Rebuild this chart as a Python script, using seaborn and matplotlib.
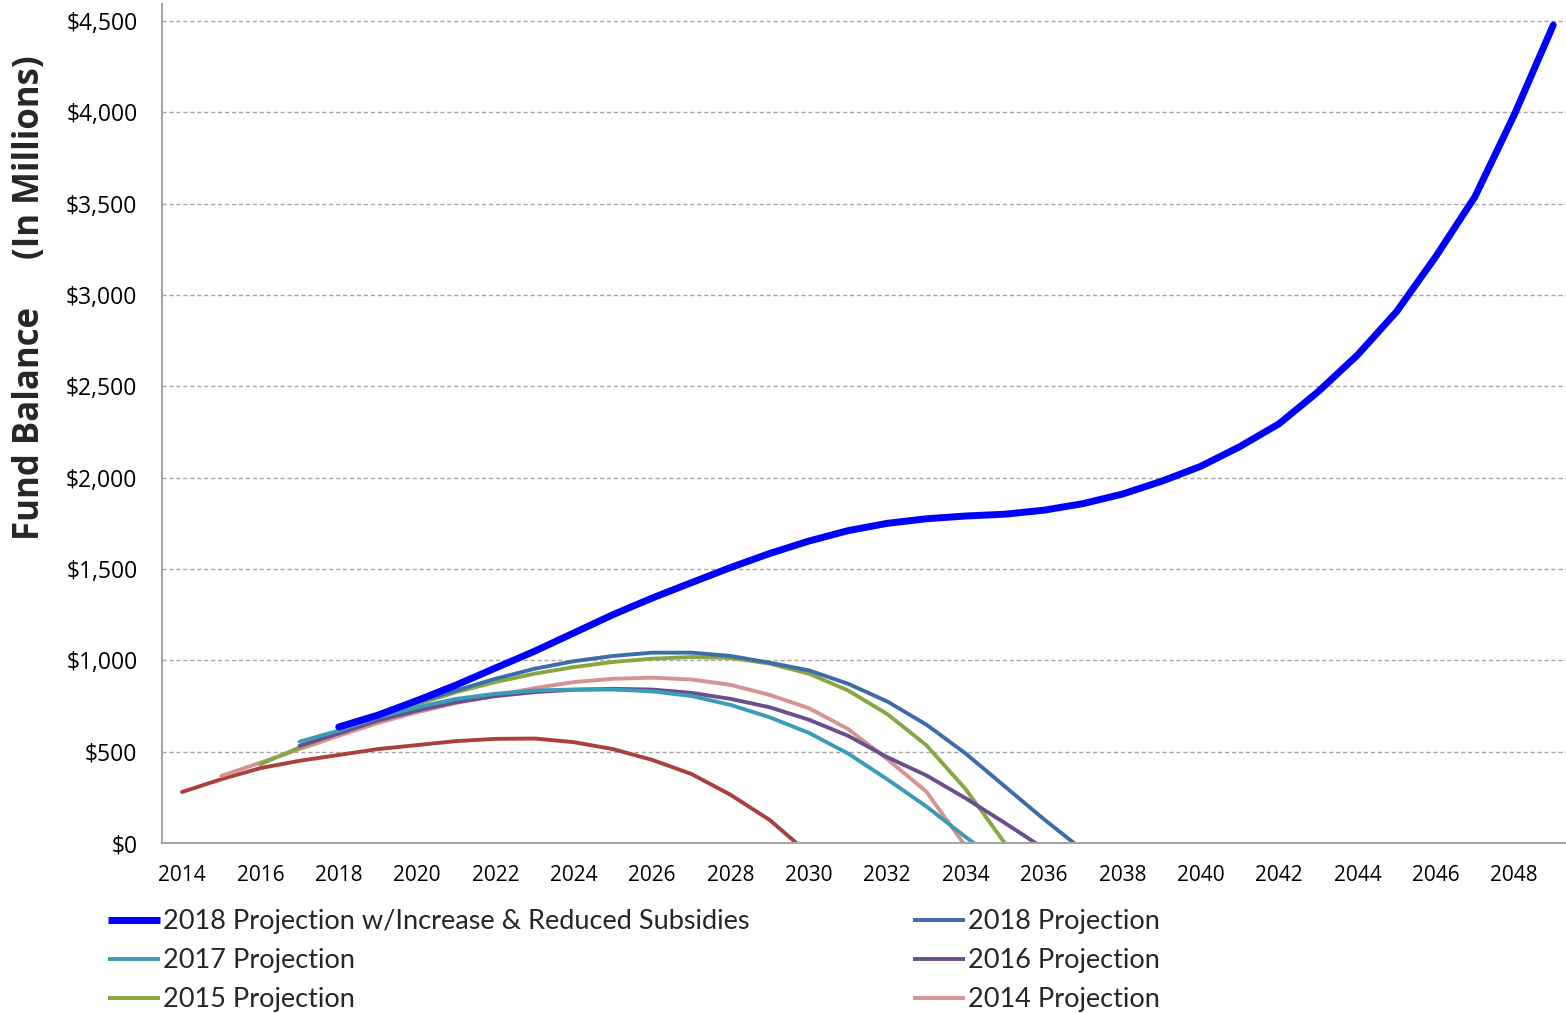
import numpy as np
import pandas as pd
import matplotlib
matplotlib.use("Agg")
import matplotlib.pyplot as plt
import seaborn as sns

# -------------------------------------------------------------------
# Data (fund balance in $ millions)
# -------------------------------------------------------------------
inc_2018_start = 2018
inc_2018 = [635, 700, 780, 865, 958, 1050, 1150, 1250, 1341, 1425, 1508, 1585,
            1653, 1710, 1750, 1775, 1790, 1800, 1822, 1858, 1910, 1980, 2062,
            2170, 2295, 2471, 2671, 2909, 3210, 3538, 3985, 4478]

proj_2018_start = 2018
proj_2018 = [635, 706, 771, 835, 899, 954, 995, 1024, 1042, 1042, 1024, 987,
             945, 872, 775, 648, 490, 310, 130, -40]

proj_2017_start = 2017
proj_2017 = [555, 615, 688, 743, 789, 817, 835, 840, 840, 830, 805, 756, 688,
             603, 490, 349, 200, 33, -124]

proj_2016_start = 2017
proj_2016 = [532, 600, 670, 725, 771, 804, 826, 839, 844, 840, 822, 789, 743,
             675, 587, 470, 370, 245, 110, -30]

proj_2015_start = 2016
proj_2015 = [431, 523, 605, 697, 761, 826, 881, 927, 963, 991, 1009, 1018,
             1013, 982, 927, 835, 706, 535, 295, 0]

proj_2014_start = 2015
proj_2014 = [367, 440, 514, 587, 657, 716, 767, 807, 848, 881, 899, 905, 895,
             866, 811, 738, 624, 459, 281, -18]

# earlier projection (red line, not in the legend)
proj_early_start = 2014
proj_early = [279, 349, 410, 450, 482, 514, 536, 558, 570, 572, 552, 514, 455,
              378, 264, 126, -59]

x_ticks = list(range(2014, 2049, 2))
y_ticks = list(range(0, 4501, 500))

series = [
    # name, start, values, color, width, in legend
    ("2018 Projection w/Increase & Reduced Subsidies", inc_2018_start, inc_2018, "#0000FF", 5.0, True),
    ("2018 Projection", proj_2018_start, proj_2018, "#3D6DA8", 2.8, True),
    ("2017 Projection", proj_2017_start, proj_2017, "#3A9CB5", 2.8, True),
    ("2016 Projection", proj_2016_start, proj_2016, "#6B4E8E", 2.8, True),
    ("2015 Projection", proj_2015_start, proj_2015, "#86A744", 2.8, True),
    ("2014 Projection", proj_2014_start, proj_2014, "#D69391", 2.8, True),
    ("early", proj_early_start, proj_early, "#A8403E", 2.8, False),
]

# -------------------------------------------------------------------
# Plot
# -------------------------------------------------------------------
sns.set_style("white")
plt.rcParams["font.family"] = ["Open Sans", "DejaVu Sans"]

fig = plt.figure(figsize=(15.66, 10.13), dpi=100)
W, H = 1566, 1013
px_per_year = 39.18
left_px = 182 - 0.5 * px_per_year
ax = fig.add_axes([left_px / W, (H - 843) / H, 36 * px_per_year / W, (843 - 4) / H])

handles = {}
# draw the earlier lines first so the thick blue sits on top
for name, start, vals, color, lw, in_leg in reversed(series):
    df = pd.DataFrame({"year": np.arange(start, start + len(vals)), "value": vals})
    sns.lineplot(data=df, x="year", y="value", ax=ax, color=color, linewidth=lw,
                 solid_capstyle="round", solid_joinstyle="round")
    if in_leg:
        handles[name] = ax.lines[-1]

ax.set_xlim(2013.5, 2049.5)
ax.set_ylim(0, 4500 * (843 - 4) / (843 - 21))
ax.set_xticks(x_ticks)
ax.set_yticks(y_ticks)
ax.set_yticklabels([f"${v:,}" for v in y_ticks])
ax.tick_params(axis="both", length=0, colors="#000000")
ax.tick_params(axis="x", labelsize=15, pad=16)
ax.tick_params(axis="y", labelsize=16.5, pad=18)
ax.set_xlabel("")
ax.set_ylabel("")

ax.grid(axis="y", linestyle=(0, (3, 2)), color="#A6A6A6", linewidth=1)
ax.grid(axis="x", visible=False)
for side in ["top", "right"]:
    ax.spines[side].set_visible(False)
for side in ["left", "bottom"]:
    ax.spines[side].set_color("#A6A6A6")
    ax.spines[side].set_linewidth(1.5)

# y axis title, two bold pieces
fig.text(30 / W, 1 - 423 / H, "Fund Balance", rotation=90, ha="center", va="center",
         fontsize=25, fontweight="bold")
fig.text(30 / W, 1 - 157 / H, "(In Millions)", rotation=90, ha="center", va="center",
         fontsize=25, fontweight="bold")

# legend, row-major in two columns
names = [s[0] for s in series if s[5]]
col1 = [names[0], names[2], names[4]]
col2 = [names[1], names[3], names[5]]
leg_kw = dict(frameon=False, handlelength=1.93, handletextpad=0.11,
              labelspacing=0.52, borderaxespad=0, borderpad=0,
              prop={"family": ["Lato", "DejaVu Sans"], "size": 19.5})
for col, x0 in [(col1, 108), (col2, 913)]:
    leg = fig.legend([handles[n] for n in col], col, loc="upper left",
                     bbox_to_anchor=(x0 / W, 1 - 909 / H), **leg_kw)
    for line in leg.get_lines():
        line.set_solid_capstyle("butt")

fig.savefig("out.png", dpi=100)
